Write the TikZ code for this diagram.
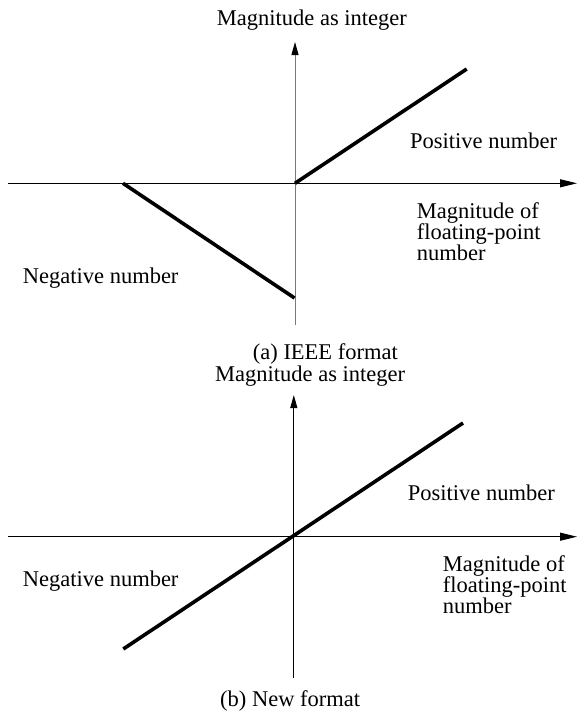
\documentclass[tikz,border=0pt]{standalone}
\usepackage{fontspec}
\setmainfont{Liberation Serif}
\usetikzlibrary{arrows.meta}
\definecolor{axisgray}{RGB}{120,120,120}
\begin{document}
\begin{tikzpicture}[x=1pt,y=-1pt,
  lbl/.style={anchor=base west,inner sep=0pt,font=\fontsize{22.5}{21}\selectfont},
  blk/.style={anchor=north west,inner sep=0pt,align=left,font=\fontsize{22.5}{21}\selectfont},
  haxis/.style={line width=1pt,-{Triangle[length=17pt,width=8pt]}},
  vaxis/.style={line width=1pt,-{Triangle[length=13pt,width=7pt]}},
  curve/.style={line width=3.6pt}]
\useasboundingbox (0,0) rectangle (577,712);
% ---------- (a) IEEE format ----------
\coordinate (ha0) at (8,183.3);
\coordinate (ha1) at (577,183.3);
\coordinate (va0) at (295,325);
\coordinate (va1) at (295,42);
\coordinate (oa) at (295,183.3);
\coordinate (pa) at (466.7,69);
\coordinate (na0) at (123,183.3);
\coordinate (na1) at (294.5,298);
\draw[haxis] (ha0) -- (ha1);
\draw[vaxis,axisgray,-{Triangle[length=13pt,width=7pt,black]}] (va0) -- (va1);
\draw[curve] (oa) -- (pa);
\draw[curve] (na0) -- (na1);
\node[lbl] (titleA) at (216.7,25) {Magnitude as integer};
\node[lbl] (posA) at (410,148) {Positive number};
\node[blk] (magA) at (416.7,202.3) {Magnitude of\\floating-point\\number};
\node[lbl] (negA) at (22.7,283.3) {Negative number};
\node[lbl] (capA) at (252.7,359) {(a) IEEE format};
% ---------- (b) New format ----------
\coordinate (hb0) at (8,536.7);
\coordinate (hb1) at (577,536.7);
\coordinate (vb0) at (293.8,678);
\coordinate (vb1) at (293.8,395);
\coordinate (pb0) at (123.3,649);
\coordinate (pb1) at (463,423);
\draw[haxis] (hb0) -- (hb1);
\draw[vaxis] (vb0) -- (vb1);
\draw[curve] (pb0) -- (pb1);
\node[lbl] (titleB) at (215,381) {Magnitude as integer};
\node[lbl] (posB) at (407.7,500) {Positive number};
\node[blk] (magB) at (442.7,555.7) {Magnitude of\\floating-point\\number};
\node[lbl] (negB) at (22.7,586) {Negative number};
\node[lbl] (capB) at (220,706.7) {(b) New format};
\end{tikzpicture}
\end{document}
